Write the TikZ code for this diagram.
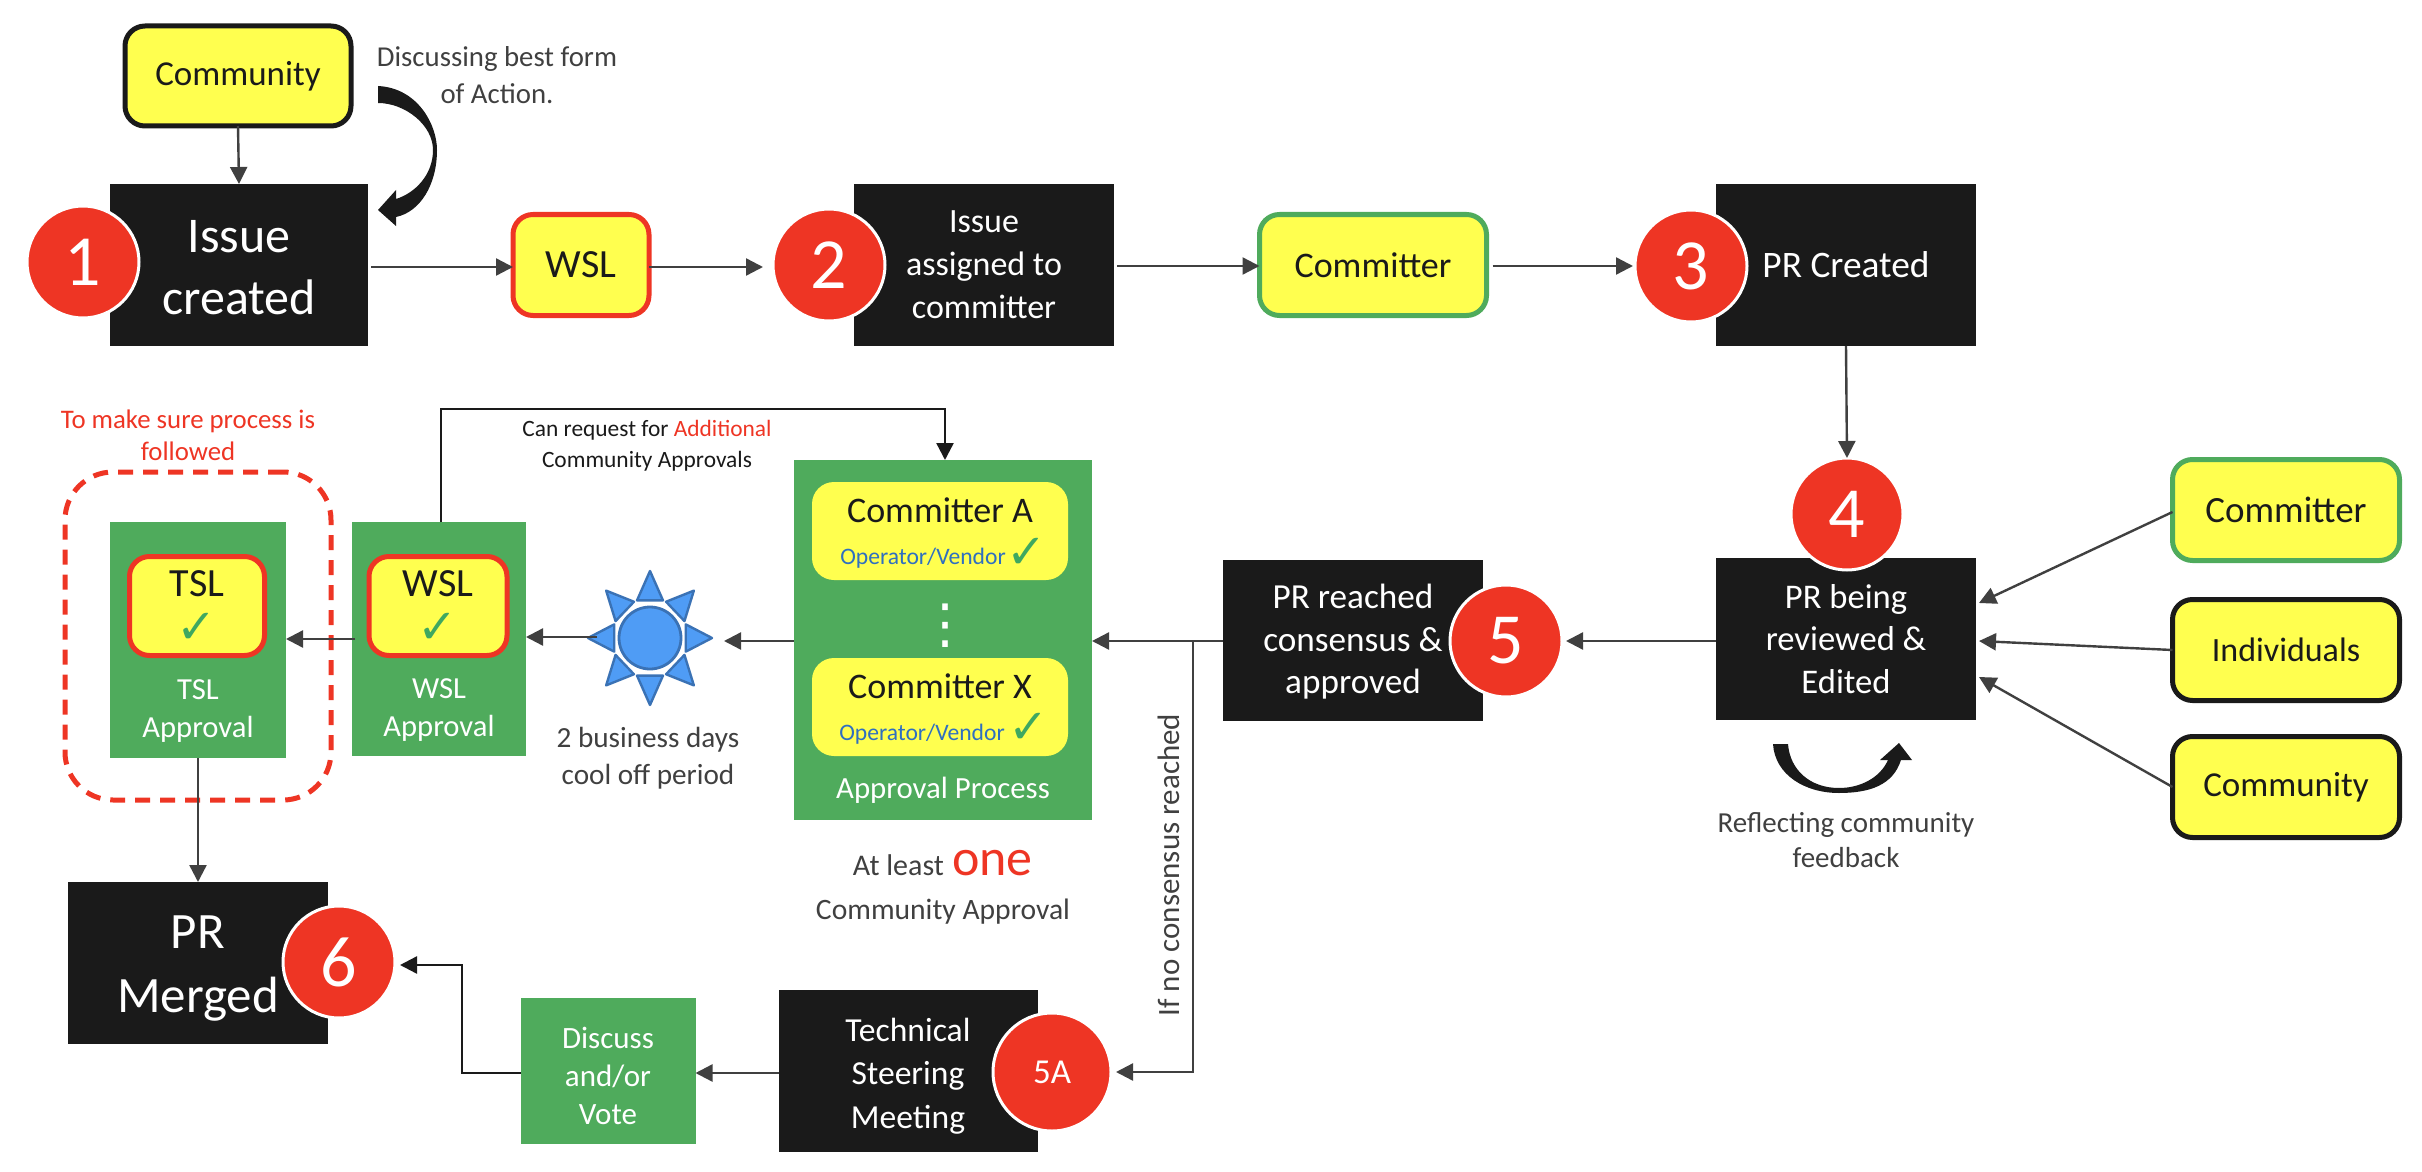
\documentclass[tikz,border=0pt]{standalone}
\usepackage{fontspec}
\setmainfont{Carlito}
\newfontfamily\symfont{DejaVu Sans}
\usetikzlibrary{arrows.meta,calc}
\definecolor{yel}{HTML}{FFFF4F}
\definecolor{redc}{HTML}{EE3524}
\definecolor{grn}{HTML}{4FAB5C}
\definecolor{blk}{HTML}{1A1A1A}
\definecolor{gry}{HTML}{404040}
\definecolor{blu}{HTML}{2F6FC0}
\definecolor{chk}{HTML}{3FA860}
\definecolor{sunf}{HTML}{4F9CF5}
\definecolor{sund}{HTML}{3A72B5}
\newcommand{\fsz}[2]{\fontsize{#1}{#2}\selectfont}
\newcommand{\chkm}{{\symfont\char"2713}}
\tikzset{
  sz/.style 2 args={minimum width=#1*0.5pt,minimum height=#2*0.5pt},
  base/.style={inner sep=0pt,outer sep=0pt,align=center},
  blackbox/.style={base,fill=blk,text=white},
  greenbox/.style={base,fill=grn,text=white},
  ybox/.style={base,fill=yel,text=blk,rounded corners=10pt,line width=2.5pt},
  num/.style={base,circle,fill=redc,draw=white,line width=1.5pt,text=white},
  lbl/.style={base,text=gry},
  redlbl/.style={base,text=redc},
  wtxt/.style={base,text=white},
  dtxt/.style={base,text=blk},
  chkt/.style={base,text=chk,font=\fsz{24}{26}},
  arr/.style={draw=gry,line width=1.2pt,-{Triangle[width=8.5pt,length=8.5pt]}},
  barr/.style={draw=blk,line width=1.2pt,-{Triangle[width=8.5pt,length=8.5pt]}},
  sunray/.style={fill=sunf,draw=sund,line width=1.2pt,line join=round},
  bigarc/.style={fill=blk,draw=none}
}
\begin{document}
\begin{tikzpicture}[x=0.5pt,y=-0.5pt]
\useasboundingbox (0,0) rectangle (2422,1172);
% top row
\node[ybox,draw=blk,sz={226}{100},font=\fsz{17.5}{21}] (comm) at (238,76) {\raisebox{-1.5pt}{Community}};
\node[lbl,font=\fsz{14.4}{18.2}] (disc) at (497,75) {Discussing best form\\of Action.};
\node[blackbox,sz={258}{162}] (issue) at (239,265) {};
\node[wtxt,font=\fsz{25}{31}] (issuet) at (239,268) {Issue\\created};
\node[num,minimum size=56pt,font=\fsz{36}{40}] (n1) at (83,262) {1};
\node[ybox,draw=redc,sz={136}{101},font=\fsz{20}{22}] (wsla) at (581,265) {WSL};
\node[blackbox,sz={260}{162},font=\fsz{17}{21.5}] (assign) at (984,265) {Issue\\assigned to\\committer};
\node[num,minimum size=56pt,font=\fsz{36}{40}] (n2) at (829,265) {2};
\node[ybox,draw=grn,sz={227}{101},font=\fsz{18}{22}] (cmt) at (1373,265) {Committer};
\node[blackbox,sz={260}{162},font=\fsz{18.7}{22}] (prc) at (1846,265) {PR Created};
\node[num,minimum size=56pt,font=\fsz{36}{40}] (n3) at (1691,266) {3};
% right column
\node[blackbox,sz={260}{162},font=\fsz{17.3}{21.2}] (prb) at (1846,639) {PR being\\reviewed \&\\Edited};
\node[num,minimum size=56pt,font=\fsz{36}{40}] (n4) at (1847,514) {4};
\node[ybox,draw=grn,sz={227}{101},font=\fsz{18.5}{22}] (cmtb) at (2286,510) {Committer};
\node[ybox,draw=blk,sz={227}{101},font=\fsz{17}{22}] (ind) at (2286,650) {Individuals};
\node[ybox,draw=blk,sz={227}{101},font=\fsz{17.5}{22}] (commb) at (2286,787) {\raisebox{-1pt}{Community}};
\node[lbl,font=\fsz{14.5}{17.7}] (refl) at (1846,840) {Reflecting community\\feedback};
% PR reached
\node[blackbox,sz={260}{161},font=\fsz{17.6}{21.2}] (prr) at (1353,640) {};
\node[wtxt,font=\fsz{17.6}{21.2}] (prrt) at (1353,642) {PR reached\\consensus \&\\approved};
\node[num,minimum size=56pt,font=\fsz{36}{40}] (n5) at (1506,641) {5};
% approval process
\node[greenbox,sz={298}{360}] (apr) at (943,640) {};
\node[ybox,draw=none,rounded corners=11pt,sz={256}{98}] (ca) at (940,531) {};
\node[ybox,draw=none,rounded corners=11pt,sz={256}{98}] (cx) at (940,707) {};
\node[dtxt,font=\fsz{18}{22}] (cat) at (940,510) {Committer A};
\node[base,text=blu,font=\fsz{11.8}{14}] (cav) at (923,558) {Operator/Vendor};
\node[chkt] (cac) at (1027,553) {\chkm};
\node[dtxt,font=\fsz{18}{22}] (cxt) at (940,686) {Committer X};
\node[base,text=blu,font=\fsz{11.8}{14}] (cxv) at (922,734) {Operator/Vendor};
\node[chkt] (cxc) at (1029,728) {\chkm};
\node[wtxt,font=\symfont\fsz{27}{30}] (dots) at (945,626) {\char"22EE};
\node[wtxt,font=\fsz{15.4}{18}] (apt) at (943,790) {Approval Process};
\node[lbl,font=\fsz{15}{16},anchor=base east] (atl) at (944,875) {At least};
\node[redlbl,font=\fsz{26}{28},anchor=base west] (one) at (952,875) {one};
\node[lbl,font=\fsz{14.8}{18}] (cap) at (943,912) {Community Approval};
% WSL & TSL approval
\node[greenbox,sz={174}{234}] (wslg) at (439,639) {};
\node[ybox,draw=redc,sz={138}{99}] (wsly) at (438,606) {};
\node[dtxt,font=\fsz{20}{24}] (wslt) at (438,584) {WSL};
\node[chkt] (wslc) at (438,628) {\chkm};
\node[wtxt,font=\fsz{15.3}{19}] (wsll) at (439,710) {WSL\\Approval};
\node[greenbox,sz={176}{236}] (tslg) at (198,640) {};
\node[ybox,draw=redc,sz={135}{99}] (tsly) at (197,606) {};
\node[dtxt,font=\fsz{20}{24}] (tslt) at (197,584) {TSL};
\node[chkt] (tslc) at (197,628) {\chkm};
\node[wtxt,font=\fsz{15.3}{19}] (tsll) at (198,711) {TSL\\Approval};
\node[base,minimum width=133pt,minimum height=164pt,draw=redc,line width=2.5pt,dash pattern=on 7.5pt off 5pt,rounded corners=24pt] (dash) at (198,636) {};
\node[redlbl,font=\fsz{13.4}{16}] (tomake) at (188,435) {To make sure process is\\followed};
\node[base,text=blk,font=\fsz{11.7}{15.4}] (canreq) at (647,446) {Can request for \textcolor{redc}{Additional}\\Community Approvals};
% sun
\foreach \a in {0,45,...,315}{
  \filldraw[sunray] ($(650,638)+(\a:62 and 67)$) -- ($(650,638)+({\a+20}:38 and 40)$) -- ($(650,638)+({\a-20}:38 and 40)$) -- cycle;
}
\node[base,circle,fill=sunf,draw=sund,line width=1.4pt,minimum size=31pt] (sun) at (650,638) {};
\node[lbl,font=\fsz{14.6}{18.3}] (cool) at (648,758) {2 business days\\cool off period};
% bottom row
\node[blackbox,sz={260}{162}] (mrg) at (198,963) {};
\node[wtxt,font=\fsz{25.5}{32}] (mrgt) at (198,969) {PR\\Merged};
\node[num,minimum size=56pt,font=\fsz{36}{40}] (n6) at (339,962) {6};
\node[greenbox,sz={175}{146}] (disv) at (608,1071) {};
\node[wtxt,font=\fsz{15.5}{19}] (disvt) at (608,1076) {Discuss\\and/or\\Vote};
\node[blackbox,sz={259}{162}] (tsm) at (908,1071) {};
\node[wtxt,font=\fsz{16.8}{21.8}] (tsmt) at (908,1076) {Technical\\Steering\\Meeting};
\node[num,minimum size=59pt,font=\fsz{17.5}{20}] (n5a) at (1052,1072) {5A};
\node[lbl,rotate=90,font=\fsz{15.5}{18}] (ifno) at (1169,865) {If no consensus reached};
\coordinate (loop) at (945,409);
% connectors
\draw[arr] (comm.south) -- (issue.north);
\draw[arr] ([xshift=1.5pt,yshift=-1pt]issue.east) -- ([yshift=-1pt]wsla.west);
\draw[arr] ([yshift=-1pt]wsla.east) -- ([xshift=-5pt,yshift=-1pt]n2.west);
\draw[arr] ([xshift=1.5pt,yshift=-0.5pt]assign.east) -- ([yshift=-0.5pt]cmt.west);
\draw[arr] ([xshift=3pt,yshift=-0.5pt]cmt.east) -- ([xshift=-1pt]n3.west);
\draw[arr] (prc.south) -- (n4.north);
\draw[arr] ([yshift=-1pt]cmtb.west) -- ([xshift=1.5pt,yshift=18pt]prb.east);
\draw[arr] (ind.west) -- ([xshift=1.5pt,yshift=-1pt]prb.east);
\draw[arr] (commb.west) -- ([xshift=1.5pt,yshift=-19pt]prb.east);
\draw[arr] ([yshift=-1pt]prb.west) -- ([xshift=2pt]n5.east);
\draw[arr] ([yshift=-0.5pt]prr.west) -- ([yshift=-0.5pt]apr.east);
\draw[arr] ([yshift=-0.5pt]apr.west) -- ([xshift=21.5pt,yshift=-1.5pt]sun.east);
\draw[arr] ([xshift=-11pt,yshift=0.5pt]sun.west) -- ([yshift=1pt]wslg.east);
\draw[arr] ([xshift=1.5pt]wslg.west) -- ([yshift=0.5pt]tslg.east);
\draw[arr] (tslg.south) -- (mrg.north);
\draw[barr] ([xshift=1pt]wslg.north) |- (loop) -- ([xshift=1pt]apr.north);
\draw[barr] ([yshift=-1pt]disv.west) -| ([xshift=33.5pt,yshift=-1.5pt]n6.east) -- ([xshift=2.5pt,yshift=-1.5pt]n6.east);
\draw[arr] ([yshift=-1pt]tsm.west) -- ([yshift=-1pt]disv.east);
\draw[barr,draw=gry] ([xshift=-15pt,yshift=-0.5pt]prr.west) |- ([xshift=2.5pt]n5a.east);
% curved arrows
\path[bigarc] (378,86) .. controls (418,88) and (437,125) .. (437,150) .. controls (437,185) and (420,212) .. (396,217) -- (396,226) -- (378,210) -- (396,190) -- (396,199) .. controls (415,193) and (433,175) .. (433,150) .. controls (433,125) and (405,103) .. (378,103) -- cycle;
\path[bigarc] (1773,744) .. controls (1775,775) and (1805,793) .. (1839,793) .. controls (1870,793) and (1893,785) .. (1901,760) -- (1912,760) -- (1899,743) -- (1880,760) -- (1888,760) .. controls (1880,778) and (1860,788) .. (1839,788) .. controls (1810,788) and (1790,770) .. (1788,744) -- cycle;
\end{tikzpicture}
\end{document}
